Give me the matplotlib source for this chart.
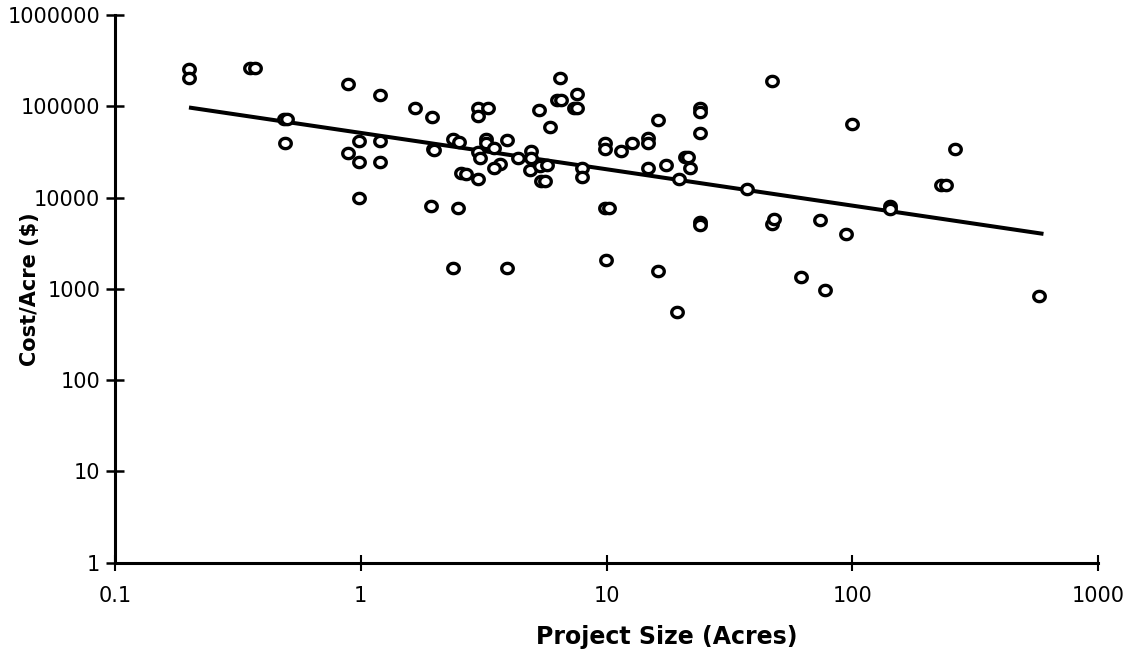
import numpy as np
import matplotlib
matplotlib.use("Agg")
import matplotlib.pyplot as plt
from matplotlib.path import Path

# ---- data ----
project_size = [
    0.2, 0.2, 0.355, 0.37, 0.485, 0.5, 0.49,
    0.885, 0.885, 0.98, 0.98, 0.98, 1.2, 1.2, 1.2,
    1.67, 1.95, 1.96, 1.99, 1.94,
    2.37, 2.5, 2.37, 2.49, 2.55, 2.69,
    2.99, 3.28, 2.99, 3.0, 3.06, 2.99, 3.23, 3.23,
    3.49, 3.67, 3.47, 3.95, 3.95, 4.36, 4.95, 4.95, 4.9,
    5.33, 5.36, 5.75, 5.4, 5.6, 5.87, 6.3, 6.5, 6.47,
    7.57, 7.4, 7.6, 7.93, 7.93,
    9.9, 9.9, 9.85, 10.2, 9.95,
    11.5, 12.7, 14.7, 14.7, 14.7, 16.2, 16.2, 17.5,
    19.3, 19.7, 20.8, 21.4, 21.8,
    24.1, 24.1, 24.1, 24.1, 24.1,
    37.4, 47.0, 47.3, 48.1, 62.1, 73.8, 77.6, 94.2, 99.3,
    142.0, 142.0, 230.0, 240.0, 262.0, 575.0,
]
cost_per_acre = [
    254000, 206000, 265000, 265000, 73000, 73000, 40000,
    177000, 30500, 42000, 24500, 10000, 134000, 42000, 24500,
    95000, 77000, 33800, 33000, 8150,
    44000, 40600, 1710, 7740, 18600, 18000,
    96600, 96600, 78000, 31900, 27400, 16100, 43500, 40000,
    34600, 23200, 20900, 42400, 1710, 27400, 32400, 27400, 19900,
    91000, 22200, 22600, 15200, 15200, 59000, 117000, 117000, 203000,
    135000, 96600, 96600, 21300, 16900,
    40000, 33800, 7650, 7650, 2075,
    32400, 40000, 45300, 40000, 21300, 71300, 1570, 22600,
    563, 15900, 28100, 28100, 20900,
    95000, 87000, 51400, 5400, 5000,
    12300, 189000, 5180, 5780, 1360, 5690, 966, 4025, 63600,
    8000, 7500, 13700, 13700, 34000, 835,
]

# regression line end points
fit_size = [0.2, 600]
fit_cost = [97000, 4000]

x_ticks = [0.1, 1, 10, 100, 1000]
x_tick_labels = ["0.1", "1", "10", "100", "1000"]
y_ticks = [1, 10, 100, 1000, 10000, 100000, 1000000]
y_tick_labels = ["1", "10", "100", "1000", "10000", "100000", "1000000"]

x_label = "Project Size (Acres)"
y_label = "Cost/Acre ($)"

# ---- figure ----
plt.rcParams["font.family"] = ["DejaVu Sans"]
W, H = 1131, 656
fig = plt.figure(figsize=(W / 100, H / 100), dpi=100)
ax_left, ax_right, ax_top, ax_bottom = 115, 1098, 15, 562.7
ax = fig.add_axes([ax_left / W, (H - ax_bottom) / H,
                   (ax_right - ax_left) / W, (ax_bottom - ax_top) / H])

ax.set_xscale("log")
ax.set_yscale("log")
ax.set_xlim(0.1, 1000)
ax.set_ylim(1, 1000000)

# slightly wide open ellipse marker, like the scanned circles
t = np.linspace(0, 2 * np.pi, 61)
ell = Path(np.column_stack([1.12 * np.cos(t), np.sin(t)]), closed=True)

ax.plot(fit_size, fit_cost, color="black", lw=2.9, solid_capstyle="butt", zorder=2)
ax.plot(project_size, cost_per_acre, linestyle="none", marker=ell,
        markersize=8.3, markerfacecolor="white", markeredgecolor="black",
        markeredgewidth=2.4, zorder=3)

for s in ["top", "right"]:
    ax.spines[s].set_visible(False)
for s in ["left", "bottom"]:
    ax.spines[s].set_linewidth(2.2)
    ax.spines[s].set_color("black")

ax.set_xticks(x_ticks)
ax.set_xticklabels(x_tick_labels)
ax.set_yticks(y_ticks)
ax.set_yticklabels(y_tick_labels)
ax.minorticks_off()
ax.tick_params(axis="x", direction="inout", length=12, width=1.5, pad=11,
               labelsize=15, colors="black")
ax.tick_params(axis="y", direction="inout", length=13, width=1.8, pad=4,
               labelsize=15, colors="black")

ax.set_xlabel(x_label, fontsize=17, fontweight="bold")
ax.set_ylabel(y_label, fontsize=15, fontweight="bold")
ax.xaxis.set_label_coords((667 - ax_left) / (ax_right - ax_left),
                          -(625 - ax_bottom) / (ax_bottom - ax_top))
ax.yaxis.set_label_coords(-(115 - 40) / (ax_right - ax_left), 0.5)

fig.savefig("out.png", dpi=100)
